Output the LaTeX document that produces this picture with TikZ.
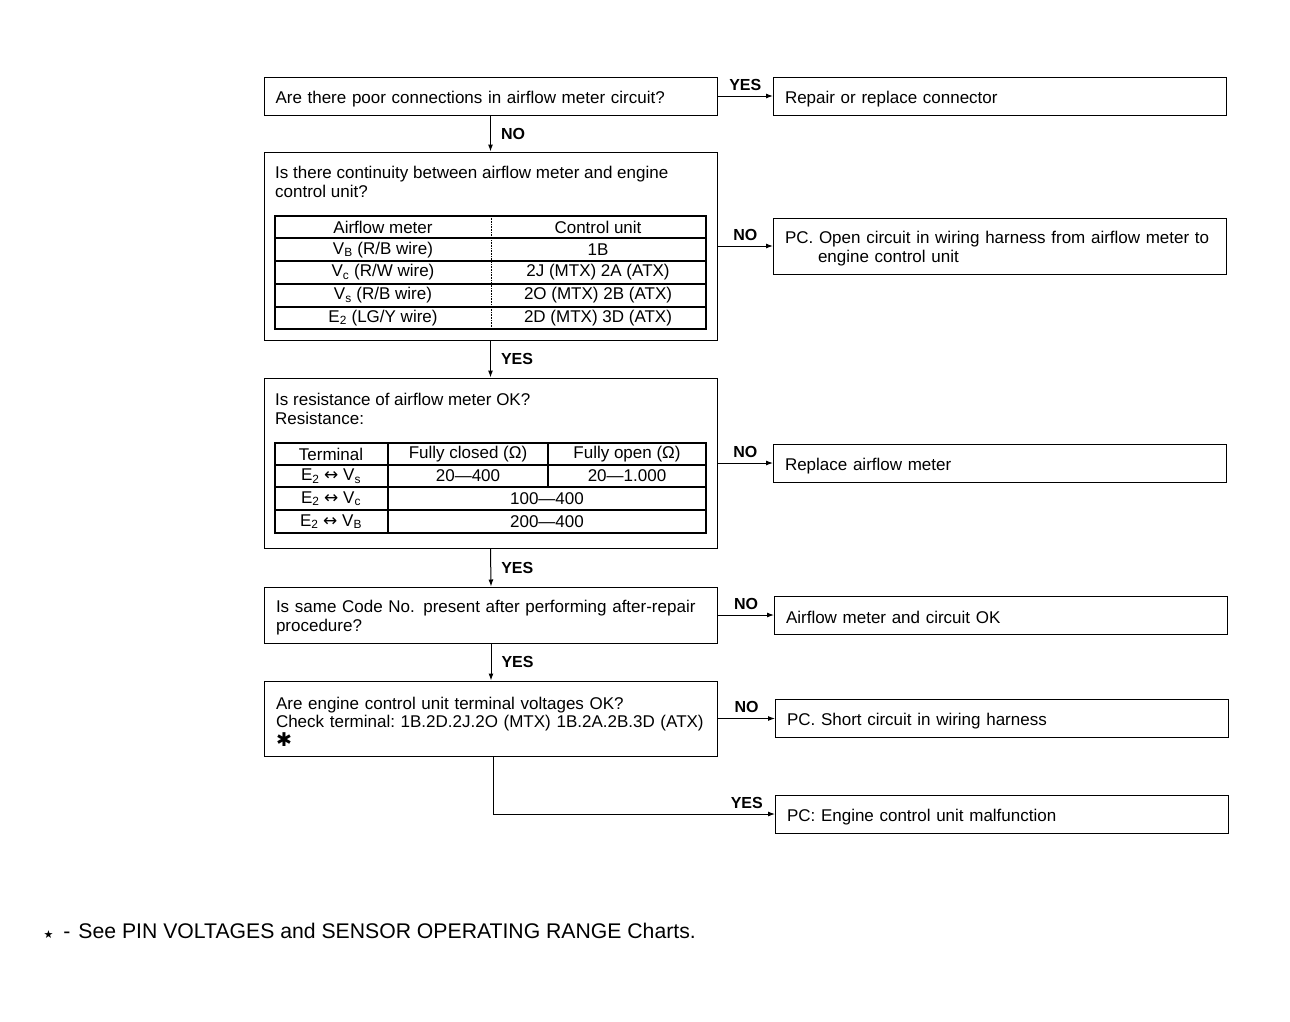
\documentclass[tikz,border=0pt]{standalone}
\usepackage{fontspec}
\setmainfont{Liberation Sans}
\newfontfamily\symfont{DejaVu Sans}
\usetikzlibrary{arrows.meta}

\tikzset{
	qbox/.style={draw, line width=1pt, text width=430pt, inner xsep=11.5pt, inner ysep=3pt,
			minimum height=#1, align=left, execute at begin node={\rule{0pt}{18pt}}},
	qbox/.default=38pt,
	abox/.style={qbox=#1},
	abox/.default=38pt,
	txt/.style={anchor=north west, inner sep=0pt, align=left},
	tbl/.style={line width=1.6pt},
	sep/.style={line width=0.6pt, densely dotted},
	arr/.style={line width=1pt, -{Latex[length=7pt,width=5pt]}},
	lbl/.style={font=\bfseries\fontsize{16}{18}\selectfont, inner sep=2pt}
}

\begin{document}
\begin{tikzpicture}[x=1pt, y=-1pt, font=\fontsize{17}{18.5}\selectfont]
	\useasboundingbox (0,0) rectangle (1290,1021);

	% questions
	\node[qbox] (q1) at (490.5,96) {Are there poor connections in airflow meter circuit?};
	\node[qbox=188pt] (q2) at (490.5,246) {};
	\node[txt] (q2t) at (275,166) {Is there continuity between airflow meter and engine\\control unit?};
	\node[qbox=170pt] (q3) at (490.5,463) {};
	\node[txt] (q3t) at (275,393) {Is resistance of airflow meter OK?\\Resistance:};
	\node[qbox=56pt] (q4) at (491,615) {Is same Code No. present after performing after-repair\\procedure?};
	\node[qbox=75pt] (q5) at (491,718.5) {Are engine control unit terminal voltages OK?\\\mbox{Check terminal:\ 1B.2D.2J.2O (MTX) 1B.2A.2B.3D (ATX)}\\{\symfont\fontsize{19}{18}\selectfont ✱}};

	% answers
	\node[abox] (a1) at (1000,96) {Repair or replace connector};
	\node[abox=56pt] (a2) at (1000,246) {PC. Open circuit in wiring harness from airflow meter to\\\hspace*{33pt}engine control unit};
	\node[abox] (a3) at (1000,463) {Replace airflow meter};
	\node[abox] (a4) at (1001,615) {Airflow meter and circuit OK};
	\node[abox] (a5) at (1002,718.5) {PC. Short circuit in wiring harness};
	\node[abox] (a6) at (1002,814) {PC: Engine control unit malfunction};

	% wiring table
	\draw[tbl] (275,216) rectangle (706,329);
	\foreach \y in {238,261,284,307}
		\draw[tbl] (275,\y) -- (706,\y);
	\draw[sep] (491,216) -- (491,329);
	\foreach \a/\b [count=\r from 0] in {Airflow meter/Control unit,
			{V\textsubscript{B} (R/B wire)}/1B,
			{V\textsubscript{c} (R/W wire)}/{2J (MTX) 2A (ATX)},
			{V\textsubscript{s} (R/B wire)}/{2O (MTX) 2B (ATX)},
			{E\textsubscript{2} (LG/Y wire)}/{2D (MTX) 3D (ATX)}}{
			\node (w-\r-a) at (383,227+22.75*\r) {\a};
			\node (w-\r-b) at (598,227+22.75*\r) {\b};
		}

	% resistance table
	\draw[tbl] (275,443) rectangle (706,533);
	\foreach \y in {465,487,510}
		\draw[tbl] (275,\y) -- (706,\y);
	\draw[tbl] (388,443) -- (388,533);
	\draw[tbl] (548,443) -- (548,487);
	\node (r-0-a) at (331,454) {Terminal};
	\node (r-0-b) at (468,454) {Fully closed (Ω)};
	\node (r-0-c) at (627,454) {Fully open (Ω)};
	\node (r-1-a) at (331,476) {E\textsubscript{2} {\symfont ↔} V\textsubscript{s}};
	\node (r-1-b) at (468,476) {20—400};
	\node (r-1-c) at (627,476) {20—1.000};
	\node (r-2-a) at (331,498.5) {E\textsubscript{2} {\symfont ↔} V\textsubscript{c}};
	\node (r-2-b) at (547,498.5) {100—400};
	\node (r-3-a) at (331,521.5) {E\textsubscript{2} {\symfont ↔} V\textsubscript{B}};
	\node (r-3-b) at (547,521.5) {200—400};

	% connectors
	\draw[arr] (q1) -- node[lbl, above=3pt] {YES} (a1);
	\draw[arr] (q1) -- node[lbl, right=8pt] {NO} (q2);
	\draw[arr] (q2) -- node[lbl, above=3pt] {NO} (a2);
	\draw[arr] (q2) -- node[lbl, right=8pt] {YES} (q3);
	\draw[arr] (q3) -- node[lbl, above=3pt] {NO} (a3);
	\draw[arr] (q3.south) -- node[lbl, right=8pt] {YES} (q4.north);
	\draw[arr] (q4) -- node[lbl, above=3pt] {NO} (a4);
	\draw[arr] (q4) -- node[lbl, right=8pt] {YES} (q5);
	\draw[arr] (q5) -- node[lbl, above=3pt] {NO} (a5);
	\draw[arr] ([xshift=2pt]q5.south) |- node[lbl, pos=0.95, above=3pt] {YES} (a6.west);

	% footnote
	\node[anchor=west, font=\fontsize{21.2}{24}\selectfont] (note) at (40,931)
		{{\symfont\fontsize{11}{12}\selectfont ★}\hspace{10pt}-\hspace{8pt}See PIN VOLTAGES and SENSOR OPERATING RANGE Charts.};
\end{tikzpicture}
\end{document}
